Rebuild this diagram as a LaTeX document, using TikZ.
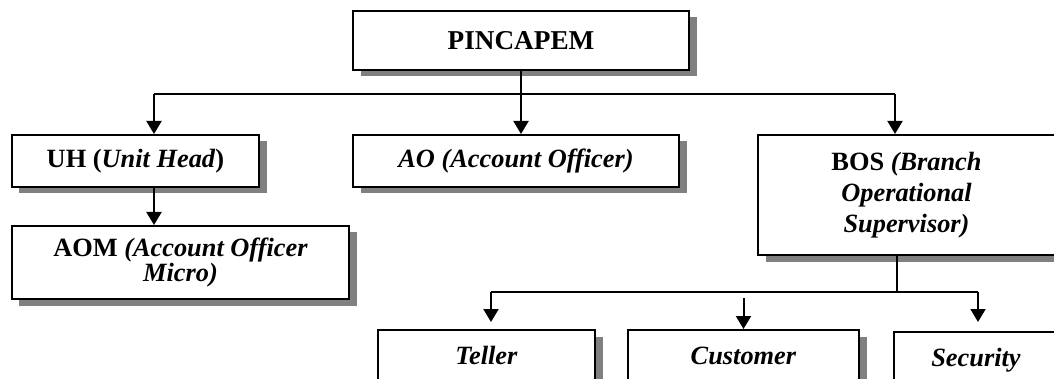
\documentclass[tikz,border=0pt]{standalone}
\usepackage{fontspec}
\setmainfont{Liberation Serif}
\usetikzlibrary{arrows.meta,shadows}
\tikzset{
	unit/.style={draw, line width=0.4mm, fill=white, align=center, inner sep=0pt,
		font=\fontsize{15pt}{17.6pt}\selectfont\bfseries,
		drop shadow={shadow xshift=1.5mm, shadow yshift=-1.3mm, fill=black!50, opacity=1}},
	link/.style={line width=0.4mm},
	arr/.style={link, -{Triangle[width=3mm, length=2.6mm]}}
}

\begin{document}
\begin{tikzpicture}[x=0.2mm, y=-0.2mm]
		%%%%% START %%%%%
		\useasboundingbox (0, 0) rectangle (1054, 379);
		\clip (0, 0) rectangle (1054, 379);
		
		\node[unit, minimum width=67.2mm, minimum height=11.8mm, font=\fontsize{15.5pt}{17.6pt}\selectfont\bfseries] (pincapem) at (521, 40.5) {PINCAPEM};
		
		\node[unit, minimum width=49.4mm, minimum height=10.4mm] (uh) at (135.5, 161) {UH (\textit{Unit Head})};
		\node[unit, minimum width=65.2mm, minimum height=10.4mm] (ao) at (516, 161) {\textit{AO (Account Officer)}};
		\node[unit, minimum width=59.4mm, minimum height=24mm] (bos) at (906.5, 195) {BOS \textit{(Branch}\\ \textit{Operational}\\ \textit{Supervisor)}};
		
		\node[unit, minimum width=67.4mm, minimum height=14.6mm] (aom) at (180.5, 262.5) {AOM \textit{(Account Officer}\\[-3.5pt] \textit{Micro)}};
		
		\node[unit, anchor=north, minimum width=43.4mm, text height=6.8mm, text depth=8mm] (teller) at (486.5, 329) {\textit{Teller}};
		\node[unit, anchor=north, minimum width=46.2mm, text height=6.8mm, text depth=8mm] (customer) at (743.5, 329) {\textit{Customer}};
		\node[unit, anchor=north, minimum width=32.8mm, text height=6.8mm, text depth=8mm] (security) at (976, 331) {\textit{Security}};
		
		% top level
		\coordinate (topl) at (154, 94);
		\coordinate (topr) at (895, 94);
		\draw[link] (topl) -- (topr);
		\draw[arr] (pincapem.south) -- (pincapem.south |- ao.north);
		\draw[arr] (topl) -- (topl |- uh.north);
		\draw[arr] (topr) -- (topr |- bos.north);
		\draw[arr] (uh.south -| topl) -- (topl |- aom.north);
		
		% under BOS
		\coordinate (lowl) at (491, 292);
		\coordinate (lowm) at (897, 292);
		\coordinate (lowr) at (978, 292);
		\draw[link] (bos.south -| lowm) -- (lowm);
		\draw[link] (lowl) -- (lowr);
		\draw[arr, shorten >=1.4mm] (lowl) -- (lowl |- teller.north);
		\draw[arr, shorten <=1.2mm] (customer.north |- lowl) -- (customer.north);
		\draw[arr, shorten >=1.8mm] (lowr) -- (lowr |- security.north);
		
		%%%%% END %%%%%
	\end{tikzpicture}
\end{document}
